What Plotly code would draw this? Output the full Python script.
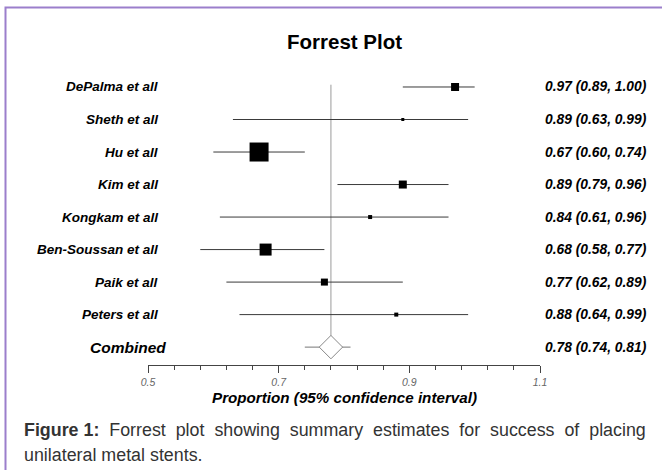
import plotly.graph_objects as go

studies = ["DePalma et all", "Sheth et all", "Hu et all", "Kim et all", "Kongkam et all",
           "Ben-Soussan et all", "Paik et all", "Peters et all"]
estimates = [0.97, 0.89, 0.67, 0.89, 0.84, 0.68, 0.77, 0.88]
lower = [0.89, 0.63, 0.60, 0.79, 0.61, 0.58, 0.62, 0.64]
upper = [1.00, 0.99, 0.74, 0.96, 0.96, 0.77, 0.89, 0.99]
box_px = [8, 3, 19, 8, 4, 12, 7, 4]  # relative study weight (marker size)
combined_label = "Combined"
combined = [0.78, 0.74, 0.81]
tick_vals = [0.5, 0.7, 0.9, 1.1]
tick_text = ["0.5", "0.7", "0.9", "1.1"]

FONT = "Liberation Sans, Arial, sans-serif"
rows = list(range(len(studies)))
crow = len(studies)

fig = go.Figure()

# reference vertical line at combined estimate
fig.add_trace(go.Scatter(x=[combined[0], combined[0]], y=[-0.07, crow - 0.34], mode="lines",
                         line=dict(color="#9a9a9a", width=1), hoverinfo="skip"))

for i in rows:
    fig.add_trace(go.Scatter(x=[lower[i], upper[i]], y=[i, i], mode="lines",
                             line=dict(color="#3a3a3a", width=1), hoverinfo="skip"))
fig.add_trace(go.Scatter(x=estimates, y=rows, mode="markers",
                         marker=dict(symbol="square", size=box_px, color="#000000", opacity=1,
                                     line=dict(width=0)), hoverinfo="skip"))

# combined
fig.add_trace(go.Scatter(x=[combined[1], combined[2]], y=[crow, crow], mode="lines",
                         line=dict(color="#777777", width=1), hoverinfo="skip"))
fig.add_trace(go.Scatter(x=[combined[0]], y=[crow], mode="markers",
                         marker=dict(symbol="diamond", size=18, color="white",
                                     line=dict(color="#888888", width=1)), hoverinfo="skip"))

H, W = 470, 662
T, B = 80, 105
L, R = 148, 122
ph = H - T - B
pw = W - L - R
def py(pix):
    return (H - B - pix) / ph
def px(pix):
    return (pix - L) / pw

BI = dict(weight="bold", style="italic")
ann = []
for i, s in enumerate(studies):
    ann.append(dict(x=px(160), xref="paper", y=i, yref="y", text=s, showarrow=False,
                    xanchor="right", yanchor="middle",
                    font=dict(family=FONT, size=13.5, color="black", **BI)))
    ann.append(dict(x=px(543), xref="paper", y=i, yref="y",
                    text=f"{estimates[i]:.2f} ({lower[i]:.2f}, {upper[i]:.2f})", showarrow=False,
                    xanchor="left", yanchor="middle",
                    font=dict(family=FONT, size=13.8, color="black", **BI)))
ann.append(dict(x=px(168), xref="paper", y=crow, yref="y", text=combined_label, showarrow=False,
                xanchor="right", yanchor="middle",
                font=dict(family=FONT, size=15.5, color="black", **BI)))
ann.append(dict(x=px(543), xref="paper", y=crow, yref="y",
                text=f"{combined[0]:.2f} ({combined[1]:.2f}, {combined[2]:.2f})", showarrow=False,
                xanchor="left", yanchor="middle",
                font=dict(family=FONT, size=13.8, color="black", **BI)))
# title
ann.append(dict(x=0.5, xref="paper", y=py(41.5), yref="paper", yanchor="middle", text="Forrest Plot",
                showarrow=False, font=dict(family=FONT, size=20.5, color="black", weight="bold")))
# axis title
ann.append(dict(x=0.5, xref="paper", y=py(397), yref="paper", yanchor="middle",
                text="Proportion (95% confidence interval)", showarrow=False,
                font=dict(family=FONT, size=15.2, color="black", **BI)))

sp = "\u00a0\u00a0"
cap1 = "<b>Figure 1:</b>" + sp + sp.join(
    ["Forrest", "plot", "showing", "summary", "estimates", "for", "success", "of", "placing"])
cap2 = "unilateral metal stents."
ann.append(dict(x=px(22), xref="paper", y=py(430), yref="paper", xanchor="left", yanchor="middle",
                text=cap1, showarrow=False, font=dict(family=FONT, size=17.85, color="#333333")))
ann.append(dict(x=px(22), xref="paper", y=py(455), yref="paper", xanchor="left", yanchor="middle",
                text=cap2, showarrow=False, font=dict(family=FONT, size=17.85, color="#333333")))

fig.update_layout(
    width=W, height=H, margin=dict(l=L, r=R, t=T, b=B, autoexpand=False),
    paper_bgcolor="white", plot_bgcolor="white", showlegend=False,
    annotations=ann,
    xaxis=dict(range=[0.5, 1.1], tickvals=tick_vals, ticktext=tick_text, showgrid=False,
               zeroline=False, showline=True, linecolor="#444444", linewidth=1,
               ticks="outside", ticklen=7, tickcolor="#444444", tickwidth=1,
               tickfont=dict(family=FONT, size=10.5, color="#666666", style="italic"),
               minor=dict(dtick=0.04, tick0=0.5, ticks="outside", ticklen=4, tickcolor="#444444",
                          showgrid=False),
               fixedrange=True),
    yaxis=dict(range=[crow + 0.55, -0.215], showgrid=False, zeroline=False, showline=False,
               showticklabels=False, ticks="", fixedrange=True),
    shapes=[dict(type="rect", xref="paper", yref="paper", x0=px(5.5), x1=px(700),
                 y0=py(520), y1=py(7.5), line=dict(color="#9b7fcc", width=2), layer="above")],
)

fig.write_html("out.html", post_script="document.body.style.margin='0';",
               config={"displayModeBar": False})
